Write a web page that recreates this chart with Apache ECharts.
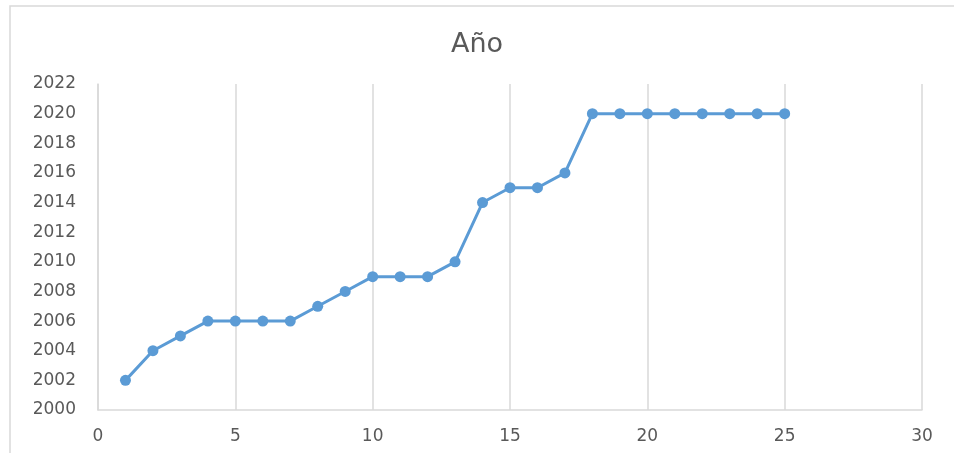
<!DOCTYPE html>
<html>
<head>
<meta charset="utf-8">
<script src="https://cdn.jsdelivr.net/npm/echarts@6/dist/echarts.min.js"></script>
<style>html,body{margin:0;padding:0;background:#fff;}#c{width:954px;height:453px;}</style>
</head>
<body>
<div id="c"></div>
<script>
const xValues = [1,2,3,4,5,6,7,8,9,10,11,12,13,14,15,16,17,18,19,20,21,22,23,24,25];
const yearValues = [2002,2004,2005,2006,2006,2006,2006,2007,2008,2009,2009,2009,2010,2014,2015,2015,2016,2020,2020,2020,2020,2020,2020,2020,2020];
const chartTitle = 'Año';

const pts = xValues.map((x, i) => [x, yearValues[i]]);
const chart = echarts.init(document.getElementById('c'), null, {renderer: 'canvas'});
const font = 'DejaVu Sans';
chart.setOption({
  animation: false,
  backgroundColor: '#fff',
  title: {
    text: chartTitle, left: 'center', top: 26,
    textStyle: {fontFamily: font, fontSize: 27, fontWeight: 'normal', color: '#595959'}
  },
  graphic: [{
    type: 'rect', shape: {x: 10, y: 6, width: 1000, height: 500},
    style: {fill: 'none', stroke: '#d9d9d9', lineWidth: 1.5}, z: -1
  }],
  grid: {left: 98, right: 32, top: 84, bottom: 43, containLabel: false},
  xAxis: {
    type: 'value', min: 0, max: 30, interval: 5,
    axisLine: {show: true, lineStyle: {color: '#d9d9d9', width: 1.5}},
    axisTick: {show: false},
    splitLine: {show: true, lineStyle: {color: '#d9d9d9', width: 1.5}},
    axisLabel: {fontFamily: font, fontSize: 17, color: '#595959', margin: 18, formatter: v => String(v)}
  },
  yAxis: {
    type: 'value', min: 2000, max: 2022, interval: 2,
    axisLine: {show: true, lineStyle: {color: '#d9d9d9', width: 1.5}},
    axisTick: {show: false},
    splitLine: {show: false},
    axisLabel: {fontFamily: font, fontSize: 17, color: '#595959', margin: 22, formatter: v => String(v)}
  },
  series: [{
    type: 'line', data: pts,
    symbol: 'circle', symbolSize: 11,
    lineStyle: {color: '#5B9BD5', width: 3},
    itemStyle: {color: '#5B9BD5'}
  }]
});
</script>
</body>
</html>
